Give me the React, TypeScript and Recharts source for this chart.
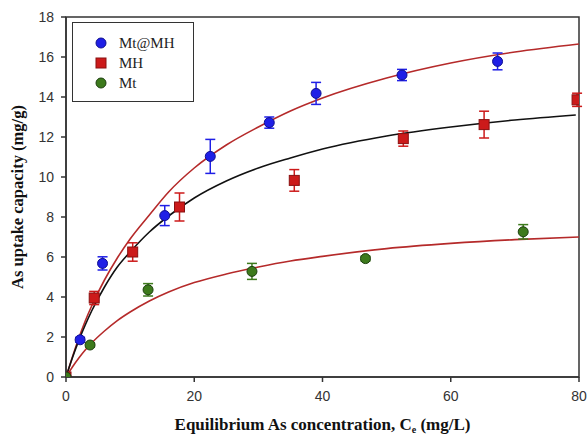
import React from 'react';
import {
  ComposedChart, Line, Scatter, XAxis, YAxis, ErrorBar, ReferenceArea, Legend,
} from 'recharts';

// Measured points: x = Ce (mg/L), y = uptake (mg/g), err = error bar half-length
const mtmhX = [0, 2.2, 5.7, 15.4, 22.5, 31.7, 39.0, 52.4, 67.3];
const mtmhY = [0, 1.86, 5.68, 8.07, 11.03, 12.72, 14.18, 15.1, 15.78];
const mtmhErr = [0, 0.12, 0.33, 0.5, 0.85, 0.28, 0.55, 0.28, 0.42];

const mhX = [0, 4.4, 10.4, 17.7, 35.6, 52.6, 65.2, 79.7];
const mhY = [0, 3.95, 6.25, 8.5, 9.83, 11.92, 12.62, 13.86];
const mhErr = [0, 0.33, 0.46, 0.7, 0.54, 0.38, 0.67, 0.33];

const mtX = [0, 3.75, 12.8, 29.0, 46.7, 71.3];
const mtY = [0, 1.6, 4.36, 5.28, 5.92, 7.26];
const mtErr = [0, 0.1, 0.31, 0.4, 0.12, 0.36];

// Fitted curves
const fitMtmhX = [0, 1, 2, 3, 4, 6, 8, 10, 13, 16, 20, 25, 30, 35, 40, 50, 60, 70, 80];
const fitMtmhY = [0, 1.0, 1.95, 2.8, 3.55, 4.85, 5.95, 6.9, 8.1, 9.25, 10.45, 11.6, 12.5, 13.3, 13.95, 14.95, 15.7, 16.25, 16.65];

const fitMhX = [0, 1, 2, 3, 4, 6, 8, 10, 13, 16, 20, 25, 30, 35, 40, 50, 60, 70, 79.5];
const fitMhY = [0, 0.96, 1.83, 2.6, 3.3, 4.5, 5.5, 6.25, 7.25, 8.05, 8.95, 9.8, 10.45, 10.95, 11.4, 12.05, 12.5, 12.85, 13.1];

const fitMtX = [0, 1, 2, 3, 4, 6, 8, 10, 13, 16, 20, 25, 30, 35, 40, 50, 60, 70, 80];
const fitMtY = [0, 0.5, 0.95, 1.35, 1.7, 2.3, 2.82, 3.25, 3.8, 4.25, 4.72, 5.15, 5.5, 5.8, 6.03, 6.42, 6.68, 6.87, 7.0];

const xTicks = [0, 20, 40, 60, 80];
const yTicks = [0, 2, 4, 6, 8, 10, 12, 14, 16, 18];

const legendNames = ['Mt@MH', 'MH', 'Mt'];

const pts = (xs: number[], ys: number[], es: number[]) =>
  xs.map((x, i) => ({ x, y: ys[i], err: es[i] }));
const curve = (xs: number[], ys: number[]) => xs.map((x, i) => ({ x, y: ys[i] }));

const mtmhData = pts(mtmhX, mtmhY, mtmhErr);
const mhData = pts(mhX, mhY, mhErr);
const mtData = pts(mtX, mtY, mtErr);

const BLUE = '#1f1fe6';
const BLUE_EDGE = '#101090';
const RED = '#cc1a1a';
const RED_EDGE = '#8a1010';
const GREEN = '#3d7a1c';
const GREEN_EDGE = '#1e4010';
const FIT_RED = '#b52a2a';

const CircleDot = (fill: string, edge: string) => (props: any) => {
  const { cx, cy } = props;
  if (cx == null || cy == null) return null;
  return <circle cx={cx} cy={cy} r={5} fill={fill} stroke={edge} strokeWidth={1} />;
};
const SquareDot = (fill: string, edge: string) => (props: any) => {
  const { cx, cy } = props;
  if (cx == null || cy == null) return null;
  return <rect x={cx - 5} y={cy - 5} width={10} height={10} fill={fill} stroke={edge} strokeWidth={1} />;
};

const YTitle = (props: any) => {
  const vb = props.viewBox || {};
  const cx = 17;
  const cy = vb.y + vb.height / 2;
  return (
    <text x={cx} y={cy} transform={`rotate(-90, ${cx}, ${cy})`} textAnchor="middle" dominantBaseline="central"
      fontFamily="'Liberation Serif', serif" fontWeight="bold" fontSize={16.5} fill="#111">
      As uptake capacity (mg/g)
    </text>
  );
};

const XTitle = (props: any) => {
  const vb = props.viewBox || {};
  const cx = vb.x + vb.width / 2;
  const cy = 430;
  return (
    <text x={cx} y={cy} textAnchor="middle" fontFamily="'Liberation Serif', serif" fontWeight="bold" fontSize={17} fill="#111">
      Equilibrium As concentration, C
      <tspan fontSize={10} dy={3}>e</tspan>
      <tspan dy={-3}> (mg/L)</tspan>
    </text>
  );
};

const LegendBox = () => {
  const markers = [
    <circle key="a" cx={8} cy={8} r={5} fill={BLUE} stroke={BLUE_EDGE} />,
    <rect key="b" x={3} y={3} width={10} height={10} fill={RED} stroke={RED_EDGE} />,
    <circle key="c" cx={8} cy={8} r={5} fill={GREEN} stroke={GREEN_EDGE} />,
  ];
  return (
    <div style={{
      width: 122, height: 80, boxSizing: 'border-box', border: '1.5px solid #333',
      background: '#fff', paddingTop: 10,
    }}>
      {legendNames.map((n, i) => (
        <div key={n} style={{ display: 'flex', alignItems: 'center', height: 20 }}>
          <svg width={16} height={16} style={{ marginLeft: 20 }}>{markers[i]}</svg>
          <span style={{ marginLeft: 10, fontFamily: "'Liberation Serif', serif", fontSize: 15, color: '#222' }}>{n}</span>
        </div>
      ))}
    </div>
  );
};

const tickStyle = { fontFamily: "'Liberation Sans', Arial, sans-serif", fontSize: 14, fill: '#333' };

export default function App() {
  return (
    <div style={{ position: 'absolute', left: 0, top: 0, width: 588, height: 437, background: '#fff' }}>
      <ComposedChart width={588} height={437} margin={{ top: 17, right: 9, bottom: 0, left: 0 }}>
        <XAxis type="number" dataKey="x" domain={[0, 80]} ticks={xTicks} allowDataOverflow
          tick={tickStyle} tickSize={5} tickMargin={9} stroke="#333" strokeWidth={1.5}
          height={60} label={<XTitle />} />
        <YAxis type="number" domain={[0, 18]} ticks={yTicks} allowDataOverflow
          tick={tickStyle} tickSize={5} tickMargin={7} stroke="#333" strokeWidth={1.5}
          width={66} label={<YTitle />} />
        <ReferenceArea x1={0} x2={80} y1={0} y2={18} fill="none" stroke="#333" strokeWidth={1.5} ifOverflow="visible" />
        <Line data={curve(fitMtmhX, fitMtmhY)} dataKey="y" type="monotone" stroke={FIT_RED} strokeWidth={1.6} dot={false} isAnimationActive={false} legendType="none" />
        <Line data={curve(fitMhX, fitMhY)} dataKey="y" type="monotone" stroke="#111" strokeWidth={1.6} dot={false} isAnimationActive={false} legendType="none" />
        <Line data={curve(fitMtX, fitMtY)} dataKey="y" type="monotone" stroke={FIT_RED} strokeWidth={1.6} dot={false} isAnimationActive={false} legendType="none" />
        <Scatter name="Mt@MH" data={mtmhData} dataKey="y" shape={CircleDot(BLUE, BLUE_EDGE)} isAnimationActive={false}>
          <ErrorBar dataKey="err" direction="y" width={5} stroke={BLUE} strokeWidth={1.5} />
        </Scatter>
        <Scatter name="MH" data={mhData} dataKey="y" shape={SquareDot(RED, RED_EDGE)} isAnimationActive={false}>
          <ErrorBar dataKey="err" direction="y" width={5} stroke={RED} strokeWidth={1.5} />
        </Scatter>
        <Scatter name="Mt" data={mtData} dataKey="y" shape={CircleDot(GREEN, GREEN_EDGE)} isAnimationActive={false}>
          <ErrorBar dataKey="err" direction="y" width={5} stroke={GREEN} strokeWidth={1.5} />
        </Scatter>
        <Legend layout="horizontal" verticalAlign="middle" align="center" content={<LegendBox />}
          wrapperStyle={{ left: 72, top: 22, width: 122, height: 80 }} />
      </ComposedChart>
    </div>
  );
}
